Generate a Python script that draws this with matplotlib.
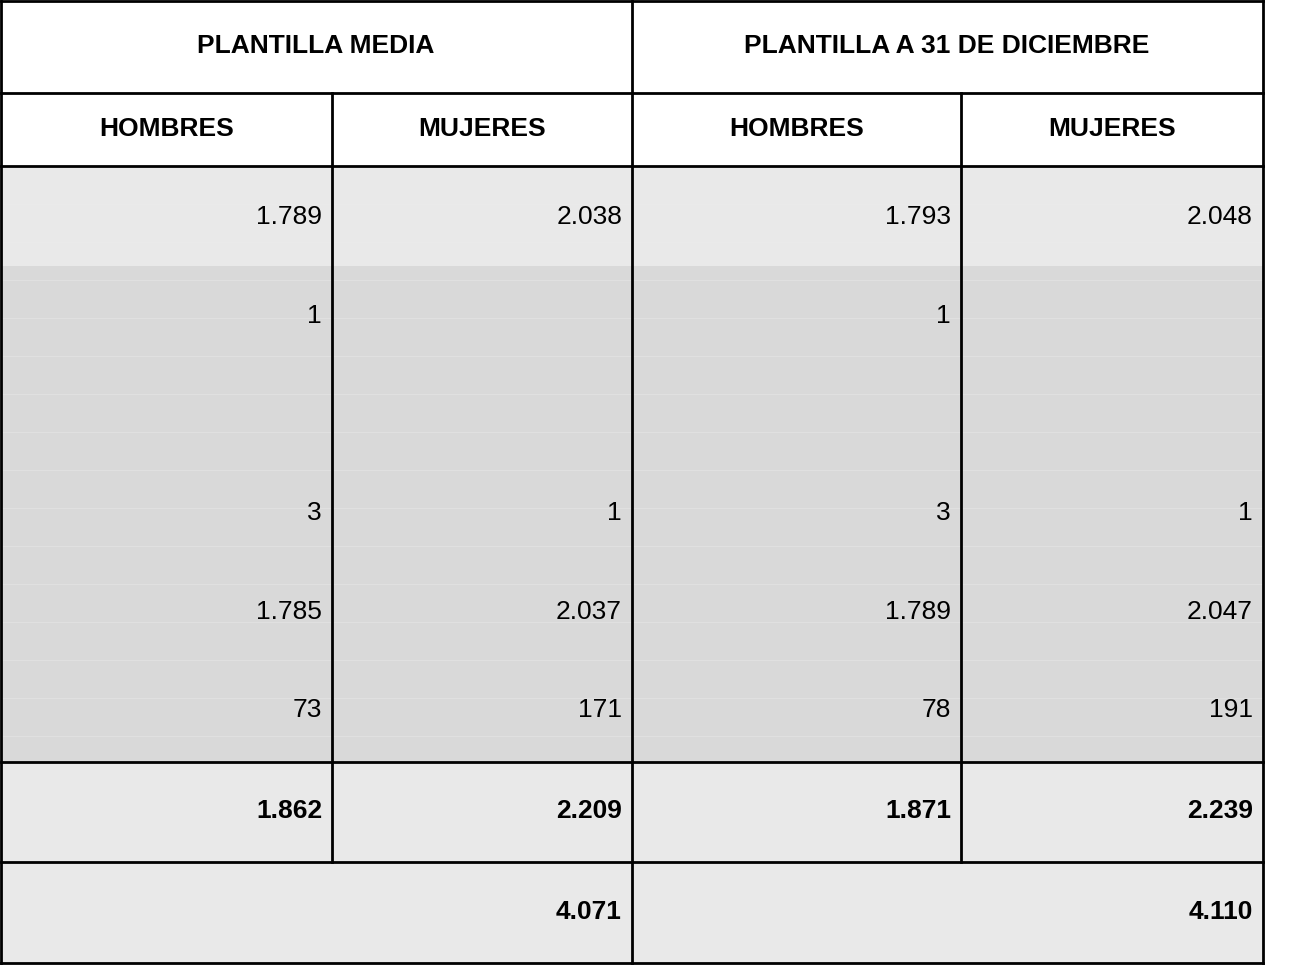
import matplotlib.pyplot as plt
from matplotlib.patches import Rectangle

group_headers = ["PLANTILLA MEDIA", "PLANTILLA A 31 DE DICIEMBRE"]
sub_headers = ["HOMBRES", "MUJERES", "HOMBRES", "MUJERES"]
row1 = ["1.789", "2.038", "1.793", "2.048"]
block_rows = [
    ["1", "", "1", ""],
    ["3", "1", "3", "1"],
    ["1.785", "2.037", "1.789", "2.047"],
    ["73", "171", "78", "191"],
]
totals = ["1.862", "2.209", "1.871", "2.239"]
grand_totals = ["4.071", "4.110"]

# layout in pixels
cols = [1, 332, 632, 961, 1263]
block_y = [316, 513, 612, 710]

plt.rcParams["font.family"] = ["Liberation Sans", "DejaVu Sans"]
fig = plt.figure(figsize=(12.9, 9.65), dpi=100)
ax = fig.add_axes([0, 0, 1, 1])
ax.set_xlim(0, 1290)
ax.set_ylim(965, 0)
ax.axis("off")

light, gray = "#e9e9e9", "#d9d9d9"
ax.add_patch(Rectangle((1, 166), 1262, 100, color=light, lw=0))
ax.add_patch(Rectangle((1, 266), 1262, 496, color=gray, lw=0))
ax.add_patch(Rectangle((1, 762), 1262, 201, color=light, lw=0))
# faint stripes
for y in range(204, 760, 38):
    ax.plot([1, 1263], [y, y], color="#eeeeee", lw=0.6, alpha=0.4)

lk = dict(color="black", lw=2)
for y in [1, 93, 166, 762, 862, 963]:
    ax.plot([1, 1263], [y, y], **lk)
ax.plot([1, 1], [1, 963], **lk)
ax.plot([1263, 1263], [1, 963], **lk)
ax.plot([632, 632], [1, 963], **lk)
for x in [332, 961]:
    ax.plot([x, x], [93, 862], **lk)

fs = 19
ax.text(316, 46, group_headers[0], ha="center", va="center", fontsize=fs, weight="bold")
ax.text(947, 46, group_headers[1], ha="center", va="center", fontsize=fs, weight="bold")
for i, h in enumerate(sub_headers):
    ax.text((cols[i] + cols[i + 1]) / 2, 129, h, ha="center", va="center",
            fontsize=fs, weight="bold")

def rtext(i, y, s, **kw):
    ax.text(cols[i + 1] - 10, y, s, ha="right", va="center", fontsize=fs, **kw)

for i, v in enumerate(row1):
    rtext(i, 217, v)
for y, row in zip(block_y, block_rows):
    for i, v in enumerate(row):
        rtext(i, y, v)
for i, v in enumerate(totals):
    rtext(i, 811, v, weight="bold")
rtext(1, 912, grand_totals[0], weight="bold")
rtext(3, 912, grand_totals[1], weight="bold")

fig.savefig("out.png", dpi=100)
